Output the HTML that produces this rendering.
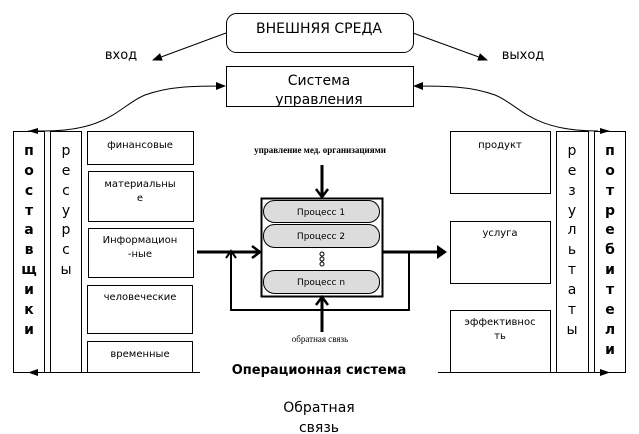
<!DOCTYPE html>
<html><head><meta charset="utf-8"><style>
html,body{margin:0;padding:0;background:#fff;}
svg{display:block;font-family:"DejaVu Sans","Liberation Sans",sans-serif;}
</style></head><body>
<svg width="639" height="434" viewBox="0 0 639 434" xmlns="http://www.w3.org/2000/svg">
<defs>
<marker id="a" markerWidth="10" markerHeight="8" refX="9" refY="4" orient="auto" markerUnits="userSpaceOnUse"><path d="M0,0 L10,4 L0,8 Z" fill="#000"/></marker>
<marker id="o" markerWidth="10" markerHeight="10" refX="5" refY="1" orient="auto-start-reverse" markerUnits="userSpaceOnUse"></marker>
</defs>
<g fill="none" stroke="#000" stroke-width="1">
<!-- top boxes -->
<rect x="226.5" y="13.5" width="187" height="39" rx="10"/>
<rect x="226.5" y="66.5" width="187" height="40"/>
<line x1="226" y1="33" x2="153" y2="60" marker-end="url(#a)"/>
<line x1="413" y1="33" x2="487" y2="60" marker-end="url(#a)"/>
<path d="M44,131 C110,131 120,105 145,95 C170,86 195,86 225,86" marker-end="url(#a)"/>
<path d="M28,131 L44,131"/>
<path d="M598,131 C530,131 520,105 495,95 C470,86 445,86 414,86" marker-end="url(#a)"/>
<!-- left column -->
<rect x="13.5" y="131.5" width="31" height="241"/>
<rect x="50.5" y="131.5" width="31" height="241"/>
<rect x="87.5" y="131.5" width="106" height="33"/>
<rect x="88.5" y="171.5" width="105" height="50"/>
<rect x="88.5" y="228.5" width="105" height="49"/>
<rect x="87.5" y="285.5" width="105" height="48"/>
<rect x="87.5" y="341.5" width="105" height="31"/>
<line x1="13" y1="372.5" x2="200" y2="372.5"/>
<!-- right column -->
<rect x="450.5" y="131.5" width="100" height="62"/>
<rect x="450.5" y="221.5" width="100" height="62"/>
<rect x="450.5" y="310.5" width="100" height="62"/>
<rect x="556.5" y="131.5" width="32" height="241"/>
<rect x="594.5" y="131.5" width="31" height="241"/>
<line x1="438" y1="372.5" x2="625" y2="372.5"/>
</g>
<path d="M38,128 L28,131 L38,134 Z"/>
<path d="M38,369 L28,372.5 L38,376 Z"/>
<path d="M600,128 L610,131 L600,134 Z"/>
<path d="M600,369 L610,372.5 L600,376 Z"/>
<!-- center -->
<g stroke="#000" fill="none">
<line x1="197" y1="252" x2="258" y2="252" stroke-width="3"/>
<path d="M252,246 L260,252 L252,258" stroke-width="2.5"/>
<line x1="382" y1="252" x2="440" y2="252" stroke-width="3"/>
<path d="M437,245 L447,252 L437,259 Z" fill="#000" stroke="none"/>
<polyline points="409,252 409,310 231,310 231,252" stroke-width="2"/>
<path d="M226,258 L231,251 L236,258" stroke-width="2"/>
<line x1="322" y1="165" x2="322" y2="196" stroke-width="3"/>
<path d="M316,189 L322,197 L328,189" stroke-width="2.5"/>
<line x1="322" y1="332" x2="322" y2="299" stroke-width="3"/>
<path d="M316,305 L322,297 L328,305" stroke-width="2.5"/>
<rect x="261.5" y="198.5" width="121" height="98" stroke-width="2"/>
</g>
<g fill="#dcdcdc" stroke="#000">
<rect x="263.5" y="200.5" width="116" height="22" rx="11"/>
<rect x="263.5" y="224.5" width="116" height="23" rx="11"/>
<rect x="263.5" y="270.5" width="116" height="23" rx="11"/>
</g>
<g fill="#fff" stroke="#000"><circle cx="322" cy="254" r="2"/><circle cx="322" cy="259" r="2"/><circle cx="322" cy="264" r="2"/></g>
<g font-size="9" text-anchor="middle">
<text x="321" y="215">Процесс 1</text>
<text x="321" y="239">Процесс 2</text>
<text x="321" y="285">Процесс n</text>
</g>
<g font-family="Liberation Serif,serif" font-size="9" text-anchor="middle" font-weight="bold">
<text x="320" y="153">управление мед. организациями</text>
</g>
<text x="320" y="342" font-family="Liberation Serif,serif" font-size="9" text-anchor="middle">обратная связь</text>
<g text-anchor="middle">
<text x="319" y="33" font-size="14">ВНЕШНЯЯ СРЕДА</text>
<text x="319" y="85" font-size="14">Система</text>
<text x="319" y="104" font-size="14">управления</text>
<text x="121" y="59" font-size="13">вход</text>
<text x="523" y="59" font-size="13">выход</text>
<text x="319" y="374" font-size="13" font-weight="bold">Операционная система</text>
<text x="319" y="412" font-size="14">Обратная</text>
<text x="319" y="432" font-size="14">связь</text>
</g>
<g text-anchor="middle" font-size="10">
<text x="140" y="148">финансовые</text>
<text x="140" y="187">материальны</text>
<text x="140" y="201">е</text>
<text x="140" y="243">Информацион</text>
<text x="140" y="257">-ные</text>
<text x="140" y="300">человеческие</text>
<text x="140" y="357">временные</text>
<text x="500" y="148">продукт</text>
<text x="500" y="236">услуга</text>
<text x="500" y="325">эффективнос</text>
<text x="500" y="339">ть</text>
</g>
<g text-anchor="middle" font-size="14" font-weight="bold">
<text x="29" y="155">п</text><text x="29" y="175">о</text><text x="29" y="195">с</text><text x="29" y="215">т</text><text x="29" y="234">а</text><text x="29" y="254">в</text><text x="29" y="274">щ</text><text x="29" y="294">и</text><text x="29" y="314">к</text><text x="29" y="334">и</text>
<text x="610" y="155">п</text><text x="610" y="175">о</text><text x="610" y="195">т</text><text x="610" y="215">р</text><text x="610" y="234">е</text><text x="610" y="254">б</text><text x="610" y="274">и</text><text x="610" y="294">т</text><text x="610" y="314">е</text><text x="610" y="334">л</text><text x="610" y="354">и</text>
</g>
<g text-anchor="middle" font-size="14">
<text x="66" y="155">р</text><text x="66" y="175">е</text><text x="66" y="195">с</text><text x="66" y="215">у</text><text x="66" y="234">р</text><text x="66" y="254">с</text><text x="66" y="274">ы</text>
<text x="572" y="155">р</text><text x="572" y="175">е</text><text x="572" y="195">з</text><text x="572" y="215">у</text><text x="572" y="234">л</text><text x="572" y="254">ь</text><text x="572" y="274">т</text><text x="572" y="294">а</text><text x="572" y="314">т</text><text x="572" y="334">ы</text>
</g>
</svg>
</body></html>
